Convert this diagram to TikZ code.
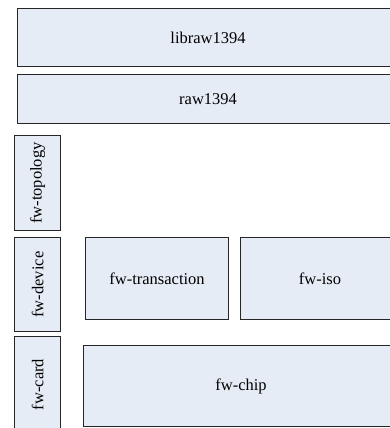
\documentclass[tikz,border=0pt]{standalone}
\usepackage{fontspec}
\setmainfont{Liberation Serif}
\begin{document}
\begin{tikzpicture}[x=1pt,y=-1pt,
  blk/.style={draw=black!85, line width=1.1pt, fill=boxfill, inner sep=0pt, anchor=north west, font=\fontsize{16.5}{18}\selectfont},
  vblk/.style={blk, rotate=90, anchor=north east}]
\definecolor{boxfill}{HTML}{E6ECF6}
\useasboundingbox (0,0) rectangle (390,428);
\clip (0,0) rectangle (390,428);
\node[blk, minimum width=381pt, minimum height=58pt] (libraw) at (17,8) {libraw1394};
\node[blk, minimum width=381pt, minimum height=49pt] (raw) at (17,74) {raw1394};
% vertical boxes: rotated, so minimum width is the vertical extent
\node[vblk, minimum width=95pt, minimum height=46pt] (topo) at (14,135) {fw-topology};
\node[vblk, minimum width=94pt, minimum height=46pt] (dev) at (14,237) {fw-device};
\node[vblk, minimum width=96pt, minimum height=46pt] (card) at (14,336) {fw-card};
\node[blk, minimum width=143pt, minimum height=82pt] (trans) at (85,237) {fw-transaction};
\node[blk, minimum width=159pt, minimum height=82pt] (iso) at (240,237) {fw-iso};
\node[blk, minimum width=315pt, minimum height=81pt] (chip) at (83,345) {fw-chip};
\end{tikzpicture}
\end{document}
